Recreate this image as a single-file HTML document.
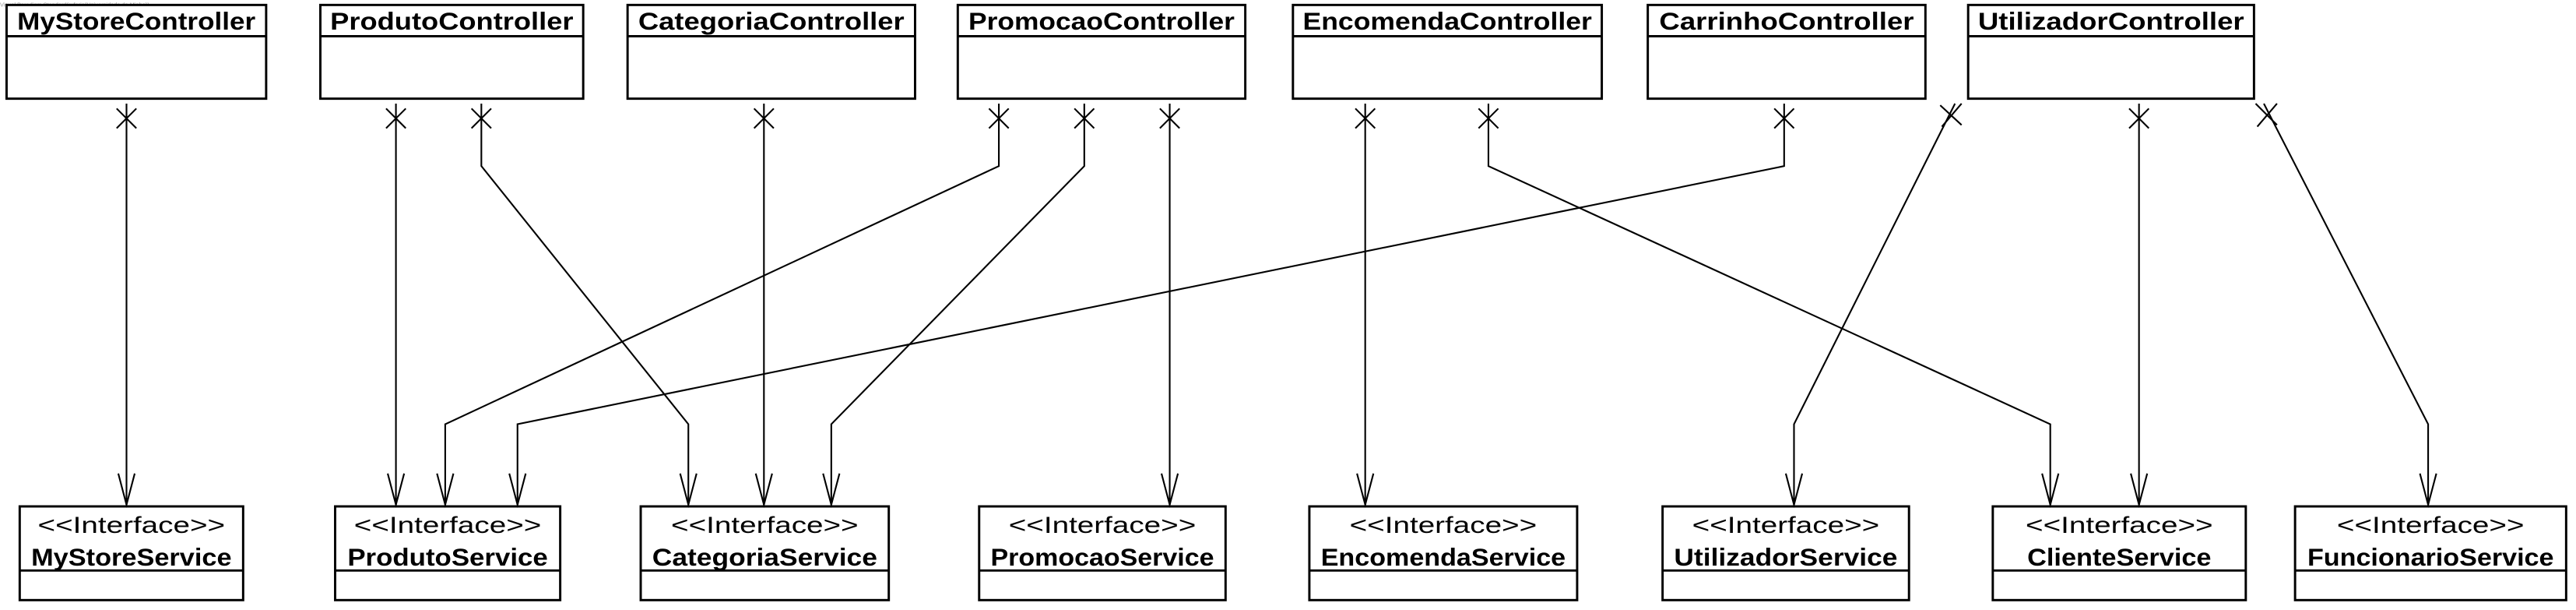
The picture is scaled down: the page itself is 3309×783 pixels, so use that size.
<!DOCTYPE html>
<html><head><meta charset="utf-8"><style>html,body{margin:0;padding:0;background:#fff}svg{display:block}</style></head>
<body>
<svg width="3309" height="783" viewBox="0 0 1568 371" xmlns="http://www.w3.org/2000/svg" font-family="'Liberation Sans', sans-serif">
<text x="0" y="4" font-size="3.5" fill="#999">Visual Paradigm Standard(rufaria(Universidade do Minho))</text>
<g fill="#fff" stroke="#000" stroke-width="1.4">
<rect x="4" y="3" width="158" height="57"/><line x1="4" y1="22" x2="162" y2="22"/>
<rect x="195" y="3" width="160" height="57"/><line x1="195" y1="22" x2="355" y2="22"/>
<rect x="382" y="3" width="175" height="57"/><line x1="382" y1="22" x2="557" y2="22"/>
<rect x="583" y="3" width="175" height="57"/><line x1="583" y1="22" x2="758" y2="22"/>
<rect x="787" y="3" width="188" height="57"/><line x1="787" y1="22" x2="975" y2="22"/>
<rect x="1003" y="3" width="169" height="57"/><line x1="1003" y1="22" x2="1172" y2="22"/>
<rect x="1198" y="3" width="174" height="57"/><line x1="1198" y1="22" x2="1372" y2="22"/>

<rect x="12" y="308" width="136" height="57"/><line x1="12" y1="347" x2="148" y2="347"/>
<rect x="204" y="308" width="137" height="57"/><line x1="204" y1="347" x2="341" y2="347"/>
<rect x="390" y="308" width="151" height="57"/><line x1="390" y1="347" x2="541" y2="347"/>
<rect x="596" y="308" width="150" height="57"/><line x1="596" y1="347" x2="746" y2="347"/>
<rect x="797" y="308" width="163" height="57"/><line x1="797" y1="347" x2="960" y2="347"/>
<rect x="1012" y="308" width="150" height="57"/><line x1="1012" y1="347" x2="1162" y2="347"/>
<rect x="1213" y="308" width="154" height="57"/><line x1="1213" y1="347" x2="1367" y2="347"/>
<rect x="1397" y="308" width="165" height="57"/><line x1="1397" y1="347" x2="1562" y2="347"/>
</g>
<g font-weight="bold" font-size="15" text-anchor="middle" lengthAdjust="spacingAndGlyphs">
<text x="83" y="18" textLength="145" lengthAdjust="spacingAndGlyphs">MyStoreController</text>
<text x="275" y="18" textLength="148" lengthAdjust="spacingAndGlyphs">ProdutoController</text>
<text x="469.5" y="18" textLength="162" lengthAdjust="spacingAndGlyphs">CategoriaController</text>
<text x="670.5" y="18" textLength="162" lengthAdjust="spacingAndGlyphs">PromocaoController</text>
<text x="881" y="18" textLength="176" lengthAdjust="spacingAndGlyphs">EncomendaController</text>
<text x="1087.5" y="18" textLength="155" lengthAdjust="spacingAndGlyphs">CarrinhoController</text>
<text x="1285" y="18" textLength="162" lengthAdjust="spacingAndGlyphs">UtilizadorController</text>

<text x="80" y="344" textLength="122" lengthAdjust="spacingAndGlyphs">MyStoreService</text>
<text x="272.5" y="344" textLength="122" lengthAdjust="spacingAndGlyphs">ProdutoService</text>
<text x="465.5" y="344" textLength="137" lengthAdjust="spacingAndGlyphs">CategoriaService</text>
<text x="671" y="344" textLength="136" lengthAdjust="spacingAndGlyphs">PromocaoService</text>
<text x="878.5" y="344" textLength="149" lengthAdjust="spacingAndGlyphs">EncomendaService</text>
<text x="1087" y="344" textLength="136" lengthAdjust="spacingAndGlyphs">UtilizadorService</text>
<text x="1290" y="344" textLength="112" lengthAdjust="spacingAndGlyphs">ClienteService</text>
<text x="1479.5" y="344" textLength="150" lengthAdjust="spacingAndGlyphs">FuncionarioService</text>
</g>
<g font-size="14" text-anchor="middle">
<text x="80" y="324" textLength="114" lengthAdjust="spacingAndGlyphs">&lt;&lt;Interface&gt;&gt;</text>
<text x="272.5" y="324" textLength="114" lengthAdjust="spacingAndGlyphs">&lt;&lt;Interface&gt;&gt;</text>
<text x="465.5" y="324" textLength="114" lengthAdjust="spacingAndGlyphs">&lt;&lt;Interface&gt;&gt;</text>
<text x="671" y="324" textLength="114" lengthAdjust="spacingAndGlyphs">&lt;&lt;Interface&gt;&gt;</text>
<text x="878.5" y="324" textLength="114" lengthAdjust="spacingAndGlyphs">&lt;&lt;Interface&gt;&gt;</text>
<text x="1087" y="324" textLength="114" lengthAdjust="spacingAndGlyphs">&lt;&lt;Interface&gt;&gt;</text>
<text x="1290" y="324" textLength="114" lengthAdjust="spacingAndGlyphs">&lt;&lt;Interface&gt;&gt;</text>
<text x="1479.5" y="324" textLength="114" lengthAdjust="spacingAndGlyphs">&lt;&lt;Interface&gt;&gt;</text>
</g>
<g fill="none" stroke="#000" stroke-width="1">
<!-- connectors -->
<polyline points="77,63 77,307"/>
<polyline points="241,63 241,307"/>
<polyline points="293,63 293,101 419,258 419,307"/>
<polyline points="465,63 465,307"/>
<polyline points="608,63 608,101 271,258 271,307"/>
<polyline points="660,63 660,101 506,258 506,307"/>
<polyline points="712,63 712,307"/>
<polyline points="831,63 831,307"/>
<polyline points="906,63 906,101 1248,258 1248,307"/>
<polyline points="1086,63 1086,101 315,258 315,307"/>
<polyline points="1190,63 1092,258 1092,307"/>
<polyline points="1302,63 1302,307"/>
<polyline points="1378,63 1478,258 1478,307"/>
<!-- X markers -->
<path d="M71,66 L83,78 M83,66 L71,78"/>
<path d="M235,66 L247,78 M247,66 L235,78"/>
<path d="M287,66 L299,78 M299,66 L287,78"/>
<path d="M459,66 L471,78 M471,66 L459,78"/>
<path d="M602,66 L614,78 M614,66 L602,78"/>
<path d="M654,66 L666,78 M666,66 L654,78"/>
<path d="M706,66 L718,78 M718,66 L706,78"/>
<path d="M825,66 L837,78 M837,66 L825,78"/>
<path d="M900,66 L912,78 M912,66 L900,78"/>
<path d="M1080,66 L1092,78 M1092,66 L1080,78"/>
<path d="M1181,64 L1194,76 M1194,63 L1182,77"/>
<path d="M1296,66 L1308,78 M1308,66 L1296,78"/>
<path d="M1373,63 L1386,76 M1386,63 L1374,77"/>
<!-- arrowheads -->
<path d="M72,288 L77,307 L82,288"/>
<path d="M236,288 L241,307 L246,288"/>
<path d="M266,288 L271,307 L276,288"/>
<path d="M310,288 L315,307 L320,288"/>
<path d="M414,288 L419,307 L424,288"/>
<path d="M460,288 L465,307 L470,288"/>
<path d="M501,288 L506,307 L511,288"/>
<path d="M707,288 L712,307 L717,288"/>
<path d="M826,288 L831,307 L836,288"/>
<path d="M1087,288 L1092,307 L1097,288"/>
<path d="M1243,288 L1248,307 L1253,288"/>
<path d="M1297,288 L1302,307 L1307,288"/>
<path d="M1473,288 L1478,307 L1483,288"/>
</g>
</svg>
</body></html>
